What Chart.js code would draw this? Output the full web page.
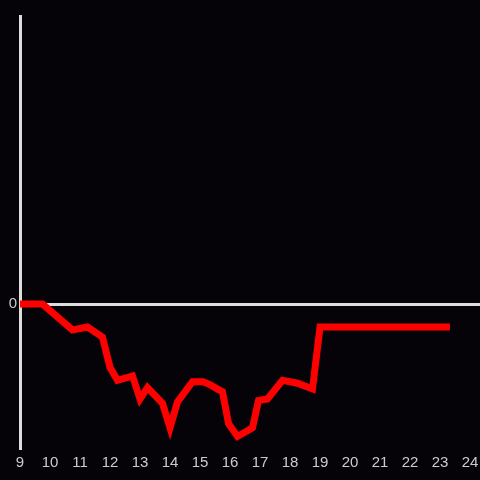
<!DOCTYPE html>
<html>
<head>
<meta charset="utf-8">
<script src="https://cdn.jsdelivr.net/npm/chart.js@4"></script>
<style>
  html, body { margin: 0; padding: 0; background: #050307; }
</style>
</head>
<body>
<canvas id="chart" width="480" height="480"></canvas>
<script>
// hours of the day and the matching values
const hours = [9, 9.75, 10.75, 11.25, 11.75, 12, 12.25, 12.75, 13, 13.25, 13.75, 14, 14.25,
  14.75, 15.1, 15.33, 15.75, 15.95, 16.25, 16.75, 16.95, 17.25, 17.75, 18.25, 18.75, 19, 23.33];
const values = [0, 0, -0.18, -0.16, -0.23, -0.44, -0.53, -0.5, -0.66, -0.58, -0.69, -0.86, -0.68,
  -0.54, -0.54, -0.56, -0.61, -0.83, -0.92, -0.86, -0.67, -0.66, -0.53, -0.55, -0.59, -0.16, -0.16];
const xTicks = [9, 10, 11, 12, 13, 14, 15, 16, 17, 18, 19, 20, 21, 22, 23, 24];
const yTicks = [0];

const bg = {
  id: "bg",
  beforeDraw(chart) {
    const c = chart.ctx;
    c.save();
    c.fillStyle = "#050307";
    c.fillRect(0, 0, chart.width, chart.height);
    c.restore();
  }
};

const ctx = document.getElementById("chart");
Chart.defaults.color = "#cccccc";
Chart.defaults.font.family = "'Liberation Sans', Arial, sans-serif";
Chart.defaults.font.size = 15;

new Chart(ctx, {
  type: "line",
  data: {
    datasets: [{
      data: hours.map((h, i) => ({ x: h, y: values[i] })),
      borderColor: "#ff0000",
      borderWidth: 7,
      pointRadius: 0,
      tension: 0,
      fill: false
    }]
  },
  options: {
    responsive: false,
    animation: false,
    layout: { padding: { top: 16, left: 0, right: 0, bottom: 0 } },
    plugins: { legend: { display: false }, tooltip: { enabled: false } },
    scales: {
      x: {
        type: "linear",
        min: 9,
        max: 24.333,
        afterBuildTicks: (s) => { s.ticks = xTicks.map(v => ({ value: v })); },
        ticks: { padding: -2, autoSkip: false, maxRotation: 0 },
        grid: { display: false },
        border: { display: false },
        afterFit: (s) => { s.height = 32; }
      },
      y: {
        min: -1,
        max: 2,
        afterBuildTicks: (s) => { s.ticks = yTicks.map(v => ({ value: v })); },
        ticks: { padding: 3 },
        grid: { color: "#dddddd", lineWidth: 3, drawTicks: false },
        border: { color: "#dddddd", width: 3 },
        afterFit: (s) => { s.width = 20; }
      }
    }
  },
  plugins: [bg]
});
</script>
</body>
</html>
